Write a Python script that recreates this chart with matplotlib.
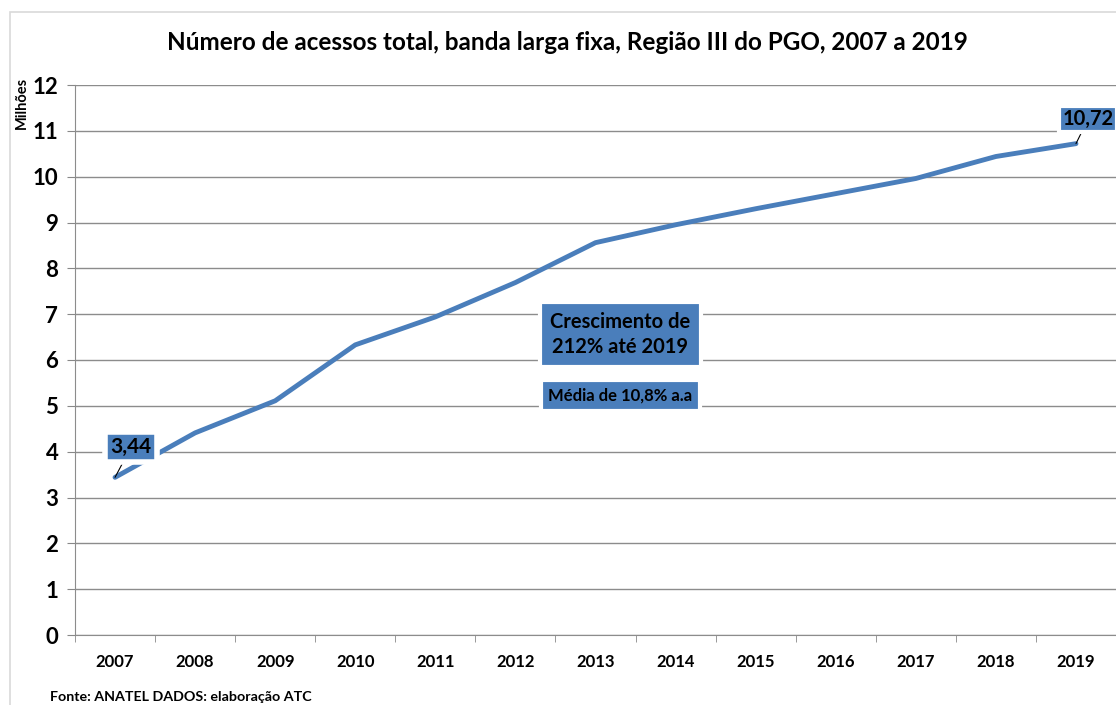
import matplotlib.pyplot as plt
from matplotlib.patches import Rectangle
import numpy as np

plt.rcParams['font.family'] = ['Lato', 'DejaVu Sans']

anos = ['2007', '2008', '2009', '2010', '2011', '2012', '2013',
        '2014', '2015', '2016', '2017', '2018', '2019']
acessos = [3.44, 4.41, 5.11, 6.33, 6.94, 7.69, 8.56,
           8.95, 9.30, 9.63, 9.96, 10.44, 10.72]
yticks = list(range(0, 13))

azul = '#4a7ebb'
x = np.arange(len(anos))

fig = plt.figure(figsize=(11.16, 7.05), dpi=100)
fig.patches.append(Rectangle((10 / 1116, -0.1), 1.2, 1.1 - 12 / 705,
                             transform=fig.transFigure, fill=False,
                             edgecolor='#d9d9d9', linewidth=1.2))
ax = fig.add_axes([75 / 1116, 70 / 705, 1 - 75 / 1116, 550 / 705])

ax.plot(x, acessos, color=azul, linewidth=3.5, solid_capstyle='round')

ax.set_xlim(-0.5, len(anos) - 0.5)
ax.set_ylim(0, 12)
ax.set_yticks(yticks)
ax.set_yticklabels([str(v) for v in yticks], fontsize=16, fontweight='bold')
ax.set_xticks(x)
ax.set_xticklabels(anos, fontsize=12, fontweight='bold')
ax.set_xticks(np.arange(len(anos) + 1) - 0.5, minor=True)
ax.tick_params(axis='x', which='major', length=0, pad=14)
ax.tick_params(axis='x', which='minor', length=5, color='#888888')
ax.tick_params(axis='y', length=6, color='#888888', pad=6)
ax.grid(axis='y', color='#8c8c8c', linewidth=1)
ax.set_axisbelow(True)
for s in ['top', 'right']:
    ax.spines[s].set_visible(False)
for s in ['left', 'bottom']:
    ax.spines[s].set_color('#8c8c8c')

caixa = dict(boxstyle='square,pad=0.25', facecolor=azul, edgecolor='white', linewidth=4)
ax.annotate('3,44', xy=(0, acessos[0]), xytext=(0.2, 4.1), fontsize=15,
            fontweight='bold', ha='center', va='center', bbox=caixa,
            arrowprops=dict(arrowstyle='-', color='black', lw=0.8, shrinkA=0, shrinkB=0))
caixa_r = dict(boxstyle='square,pad=0.15', facecolor=azul, edgecolor='white', linewidth=3)
ax.annotate('10,72', xy=(12, acessos[-1]), xytext=(12.15, 11.25), fontsize=14.5,
            fontweight='bold', ha='center', va='center', bbox=caixa_r,
            arrowprops=dict(arrowstyle='-', color='black', lw=0.8, shrinkA=0, shrinkB=0),
            annotation_clip=False)

caixa2 = dict(boxstyle='square,pad=0.5', facecolor=azul, edgecolor='white', linewidth=3)
ax.text(6.31, 6.55, 'Crescimento de\n212% até 2019', fontsize=14.5, fontweight='bold',
        ha='center', va='center', bbox=caixa2, linespacing=1.3)
caixa3 = dict(boxstyle='square,pad=0.45', facecolor=azul, edgecolor='white', linewidth=3)
ax.text(6.31, 5.23, 'Média de 10,8% a.a', fontsize=12, fontweight='bold',
        ha='center', va='center', bbox=caixa3)

fig.text(567, 705 - 42, 'Número de acessos total, banda larga fixa, Região III do PGO, 2007 a 2019',
         transform=None, fontsize=17.5, fontweight='bold', ha='center', va='center')
fig.text(22, 705 - 103, 'Milhões', transform=None, rotation=90, fontsize=10.5,
         fontweight='bold', ha='center', va='center')
fig.text(50, 705 - 697, 'Fonte: ANATEL DADOS: elaboração ATC', transform=None,
         fontsize=10.3, fontweight='bold', ha='left', va='center')

fig.savefig('out.png', dpi=100)
